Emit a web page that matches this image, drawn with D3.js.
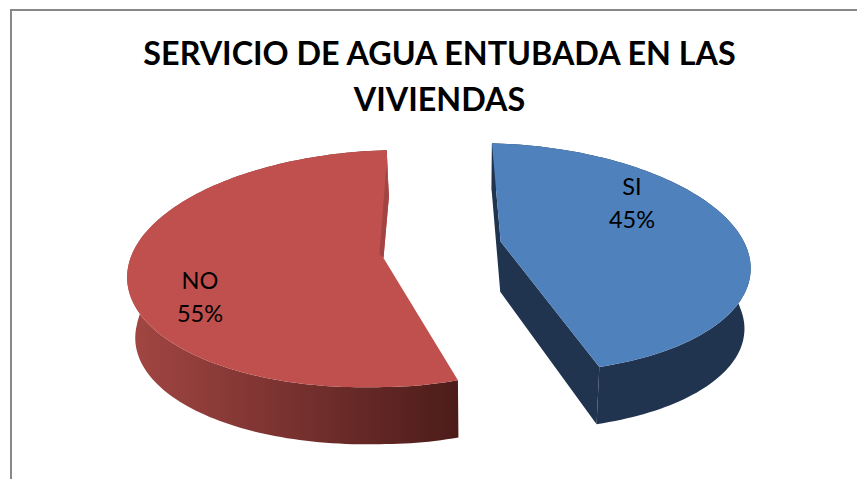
<!doctype html>
<html>
	<head>
		<meta charset="utf-8">
		<style>
			html, body{ margin: 0; padding: 0; background: #fff; }
			#chart{ display: block; }
			#chart text{ fill: #000; text-anchor: middle; font-family: Lato, "Open Sans", sans-serif; }
			#chart .title{ font-weight: 700; font-size: 32.3px; }
			#chart .label{ font-size: 23.5px; }
		</style>
	</head>
	<body>
		<svg id="chart"></svg>

		<script src="https://d3js.org/d3.v7.min.js"></script>
		<script>
			var categories = ["SI", "NO"];
			var percents = [45, 55];
			var titleLines = ["SERVICIO DE AGUA ENTUBADA EN LAS", "VIVIENDAS"];

			var width = 857, height = 479;
			var chart = d3.select("#chart").attr("width", width).attr("height", height);

			// frame: only top and left edges show in the picture
			chart.append("path")
				.attr("d", "M11,479V10H857")
				.attr("fill", "none")
				.attr("stroke", "#888888")
				.attr("stroke-width", 2);

			// each slice has its own exploded perspective ellipse
			var views = {
				SI: {x0: 500.7, y0: 241.7, p: 0.14, b: 112.2, aL: 245.9, aR: 245.9, s: 10, tL: 6, tR: 6,
					top: "#4f81bd", wall: "#20344f", cutWall: true, labelX: 632, labelY: 195},
				NO: {x0: 383.5, y0: 258, p: 0.09, b: 117.5, aL: 255, aR: 231, s: -3.5, tL: -7, tR: 0,
					top: "#c0504d", wall: "url(#redWall)", cutWall: false, labelX: 200, labelY: 289}
			};

			function project(view, theta, r){
				var u = r * Math.sin(theta), v = -r * Math.cos(theta);
				var w = 1 / (1 - view.p * v);
				return [view.x0 + ((u > 0 ? view.aR : view.aL) * u + view.s * v) * w,
					view.y0 + (view.b * v + (u > 0 ? view.tR : view.tL) * u) * w];
			}

			// same point on the lower face of the pie
			function lower(view, theta, r){
				var pt = project(view, theta, r);
				var v = -r * Math.cos(theta);
				var drop = 50 + r * (v < 0 ? 11 + 14 * v : 11 - 4 * v);
				return [480 + (pt[0] - 480) * 0.977, pt[1] + drop];
			}

			var pie = d3.pie().sort(null).value(function(d){ return d; });
			var slices = pie(percents);
			var line = d3.line();

			function arcAngles(d){
				var n = Math.ceil((d.endAngle - d.startAngle) * 40);
				return d3.range(n + 1).map(function(i){
					return d.startAngle + (d.endAngle - d.startAngle) * i / n;
				});
			}

			var defs = chart.append("defs");
			var grad = defs.append("linearGradient")
				.attr("id", "redWall")
				.attr("gradientUnits", "userSpaceOnUse")
				.attr("x1", 130).attr("x2", 458).attr("y1", 0).attr("y2", 0);
			grad.append("stop").attr("offset", 0).attr("stop-color", "#a24643");
			grad.append("stop").attr("offset", 1).attr("stop-color", "#4c1c1a");

			var slice = chart.selectAll("g.slice")
				.data(slices)
				.enter().append("g")
				.attr("class", "slice");

			// cut walls, the red one faces away and stays hidden
			slice.filter(function(d, i){ return views[categories[i]].cutWall; })
				.append("path")
				.attr("fill", "#20344f")
				.attr("d", function(d){
					var view = views[categories[d.index]];
					return line([
						project(view, d.startAngle, 1), project(view, d.startAngle, 0),
						project(view, d.endAngle, 1), lower(view, d.endAngle, 1),
						lower(view, d.endAngle, 0), lower(view, d.startAngle, 1)
					]) + "Z";
				});

			// outer wall
			slice.append("path")
				.attr("fill", function(d, i){ return views[categories[i]].wall; })
				.attr("d", function(d, i){
					var view = views[categories[i]];
					var angles = arcAngles(d);
					var upper = angles.map(function(a){ return project(view, a, 1); });
					var under = angles.slice().reverse().map(function(a){ return lower(view, a, 1); });
					return line(upper.concat(under)) + "Z";
				});

			// top face, red one also covers the small bulge at its cut
			slice.append("path")
				.attr("fill", function(d, i){ return views[categories[i]].top; })
				.attr("d", function(d, i){
					var view = views[categories[i]];
					var pts = arcAngles(d).map(function(a){ return project(view, a, 1); });
					if(!view.cutWall) pts.push(lower(view, d.endAngle, 1));
					pts.push(project(view, 0, 0));
					return line(pts) + "Z";
				});

			// thin dark sliver on the inner cut of the red slice
			var redView = views.NO, redApex = project(redView, 0, 0);
			chart.append("path")
				.attr("fill", "#a14442")
				.attr("d", line([
					project(redView, 2 * Math.PI, 0.84),
					lower(redView, 2 * Math.PI, 1),
					redApex,
					[redApex[0] - 4, redApex[1] - 4]
				]) + "Z");

			chart.selectAll("text.title")
				.data(titleLines)
				.enter().append("text")
				.attr("class", "title")
				.attr("x", 439.5)
				.attr("y", function(d, i){ return 65 + i * 46; })
				.text(function(d){ return d; });

			categories.forEach(function(name, i){
				var view = views[name];
				var label = chart.append("text")
					.attr("class", "label")
					.attr("x", view.labelX)
					.attr("y", view.labelY);
				label.append("tspan").attr("x", view.labelX).text(name);
				label.append("tspan").attr("x", view.labelX).attr("dy", 33).text(percents[i] + "%");
			});
		</script>
	</body>
</html>
